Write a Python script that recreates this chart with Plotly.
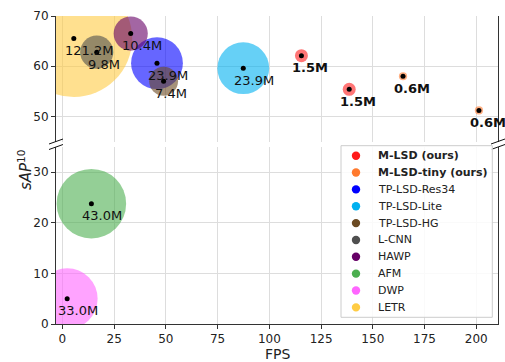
import numpy as np
import plotly.graph_objects as go

# Methods shown in the legend, in legend order, with their colours
methods = ["M-LSD (ours)", "M-LSD-tiny (ours)", "TP-LSD-Res34", "TP-LSD-Lite",
           "TP-LSD-HG", "L-CNN", "HAWP", "AFM", "DWP", "LETR"]
method_colors = ["#ff1a1a", "#ff7a2e", "#0000ff", "#00b0f0", "#6b4a22",
                 "#4f4f4f", "#660066", "#4caf50", "#ff66ff", "#ffcc44"]
bold_methods = ["M-LSD (ours)", "M-LSD-tiny (ours)"]

# One entry per measured model (speed, accuracy, parameter count in millions)
point_method = ["LETR", "M-LSD (ours)", "M-LSD (ours)", "M-LSD-tiny (ours)",
                "M-LSD-tiny (ours)", "TP-LSD-Res34", "TP-LSD-Lite", "TP-LSD-HG",
                "L-CNN", "HAWP", "AFM", "DWP"]
fps = [5.5, 115.5, 138.6, 164.6, 201.3, 45.7, 87.4, 48.9, 16.6, 33.0, 14.0, 2.3]
sap10 = [65.5, 62.1, 55.4, 58.0, 51.2, 60.6, 59.6, 57.0, 62.8, 66.5, 23.8, 5.0]
params_m = [121.2, 1.5, 1.5, 0.6, 0.6, 23.9, 23.9, 7.4, 9.8, 10.4, 43.0, 33.0]

x_ticks = [0, 25, 50, 75, 100, 125, 150, 175, 200]
top_y_ticks = [50, 60, 70]
bottom_y_ticks = [0, 10, 20, 30]
top_range = [45, 70]
bottom_range = [0, 35]
x_range = [-3.1, 210.5]

W, H = 505, 362
ML, MR, MT, MB = 56, 7, 16, 38
plot_w = W - ML - MR
plot_h = H - MT - MB
bottom_dom = [0, 177 / plot_h]
top_dom = [182.5 / plot_h, 1]

FONT = "DejaVu Sans"
AXIS_COLOR = "#333333"
GRID_COLOR = "#dddddd"
BUBBLE_ALPHA = 0.6
SIZE_PER_SQRT_M = 10.6

color_of = dict(zip(methods, method_colors))


def panel_of(v):
    return "y2" if v >= top_range[0] else "y"


def px_to_paper_x(px):
    return (px - ML) / plot_w


def px_to_paper_y(py):
    return (H - MB - py) / plot_h


fig = go.Figure()

# Bubbles: area proportional to parameter count
for m, x, y, p in zip(point_method, fps, sap10, params_m):
    fig.add_trace(go.Scatter(
        x=[x], y=[y], yaxis=panel_of(y), mode="markers", showlegend=False,
        hoverinfo="skip",
        marker=dict(size=SIZE_PER_SQRT_M * np.sqrt(p), sizemode="diameter",
                    color=color_of[m], opacity=BUBBLE_ALPHA, line=dict(width=0)),
    ))

# Centre dots
for axis in ["y", "y2"]:
    xs = [x for x, y in zip(fps, sap10) if panel_of(y) == axis]
    ys = [y for y in sap10 if panel_of(y) == axis]
    fig.add_trace(go.Scatter(x=xs, y=ys, yaxis=axis, mode="markers",
                             showlegend=False, hoverinfo="skip",
                             marker=dict(size=5, color="black")))

# Parameter-count labels
annotations = []
for m, x, y, p in zip(point_method, fps, sap10, params_m):
    txt = f"{p:.1f}M"
    if m in bold_methods:
        txt = f"<b>{txt}</b>"
    annotations.append(dict(
        x=x, y=y, xref="x", yref=panel_of(y), text=txt, showarrow=False,
        xanchor="left", yanchor="middle", xshift=-11, yshift=-12,
        font=dict(family=FONT, size=13, color="#111111"),
    ))

# Axis titles
annotations.append(dict(
    x=0.5, y=0, xref="paper", yref="paper", text="FPS", showarrow=False,
    xanchor="center", yanchor="middle", yshift=-30,
    font=dict(family=FONT, size=14, color="#222222"),
))
annotations.append(dict(
    x=0, y=0.5, xref="paper", yref="paper",
    text="<i>sAP</i><sup>10</sup>", showarrow=False, textangle=-90,
    xanchor="center", yanchor="middle", xshift=-31,
    font=dict(family=FONT, size=15, color="#222222"),
))

# Break marks at both sides of the gap between panels
shapes = []
for xa in [0, 1]:
    for ya in [bottom_dom[1], top_dom[0]]:
        shapes.append(dict(
            type="line", xref="paper", yref="paper",
            xsizemode="pixel", ysizemode="pixel", xanchor=xa, yanchor=ya,
            x0=-7, x1=7, y0=-2.5, y1=2.5,
            line=dict(color="#111111", width=1),
        ))

# Legend box with a compact row spacing
LEG_LEFT, LEG_RIGHT, LEG_TOP, LEG_BOTTOM = 341, 492.3, 145.7, 317.3
ROW0, ROW_STEP = 155.7, 16.85
MARK_X, TEXT_X = 356, 376.5
shapes.append(dict(
    type="rect", xref="paper", yref="paper",
    x0=px_to_paper_x(LEG_LEFT), x1=px_to_paper_x(LEG_RIGHT),
    y0=px_to_paper_y(LEG_BOTTOM), y1=px_to_paper_y(LEG_TOP),
    fillcolor="rgba(255,255,255,0.85)", line=dict(color="#cccccc", width=1),
))
for i, m in enumerate(methods):
    row_y = px_to_paper_y(ROW0 + i * ROW_STEP)
    shapes.append(dict(
        type="circle", xref="paper", yref="paper",
        xsizemode="pixel", ysizemode="pixel",
        xanchor=px_to_paper_x(MARK_X), yanchor=row_y,
        x0=-4.2, x1=4.2, y0=-4.2, y1=4.2,
        fillcolor=color_of[m], line=dict(width=0),
    ))
    name = f"<b>{m}</b>" if m in bold_methods else m
    annotations.append(dict(
        x=px_to_paper_x(TEXT_X), y=row_y, xref="paper", yref="paper",
        text=name, showarrow=False, xanchor="left", yanchor="middle",
        xshift=-1, font=dict(family=FONT, size=11, color="#222222"),
    ))

tick_font = dict(family=FONT, size=12, color="#222222")

fig.update_layout(
    width=W, height=H,
    margin=dict(l=ML, r=MR, t=MT, b=MB),
    plot_bgcolor="white", paper_bgcolor="white",
    font=dict(family=FONT),
    showlegend=False,
    xaxis=dict(range=x_range, anchor="y", tickvals=x_ticks, ticks="outside",
               ticklen=4, tickcolor=AXIS_COLOR, showgrid=True,
               gridcolor=GRID_COLOR, showline=True, linecolor=AXIS_COLOR,
               linewidth=1, zeroline=False, tickfont=tick_font),
    xaxis2=dict(range=x_range, anchor="y2", matches="x", tickvals=x_ticks,
                showticklabels=False, ticks="", showgrid=True,
                gridcolor=GRID_COLOR, showline=True, side="top",
                linecolor=AXIS_COLOR, linewidth=1, zeroline=False),
    yaxis=dict(domain=bottom_dom, range=bottom_range, anchor="x",
               tickvals=bottom_y_ticks, ticks="outside", ticklen=4,
               tickcolor=AXIS_COLOR, showgrid=True, gridcolor=GRID_COLOR,
               showline=True, mirror=True, linecolor=AXIS_COLOR, linewidth=1,
               zeroline=False, tickfont=tick_font),
    yaxis2=dict(domain=top_dom, range=top_range, anchor="x2",
                tickvals=top_y_ticks, ticks="outside", ticklen=4,
                tickcolor=AXIS_COLOR, showgrid=True, gridcolor=GRID_COLOR,
                showline=True, mirror=True, linecolor=AXIS_COLOR, linewidth=1,
                zeroline=False, tickfont=tick_font),
    annotations=annotations,
    shapes=shapes,
)

fig.write_html("out.html")
